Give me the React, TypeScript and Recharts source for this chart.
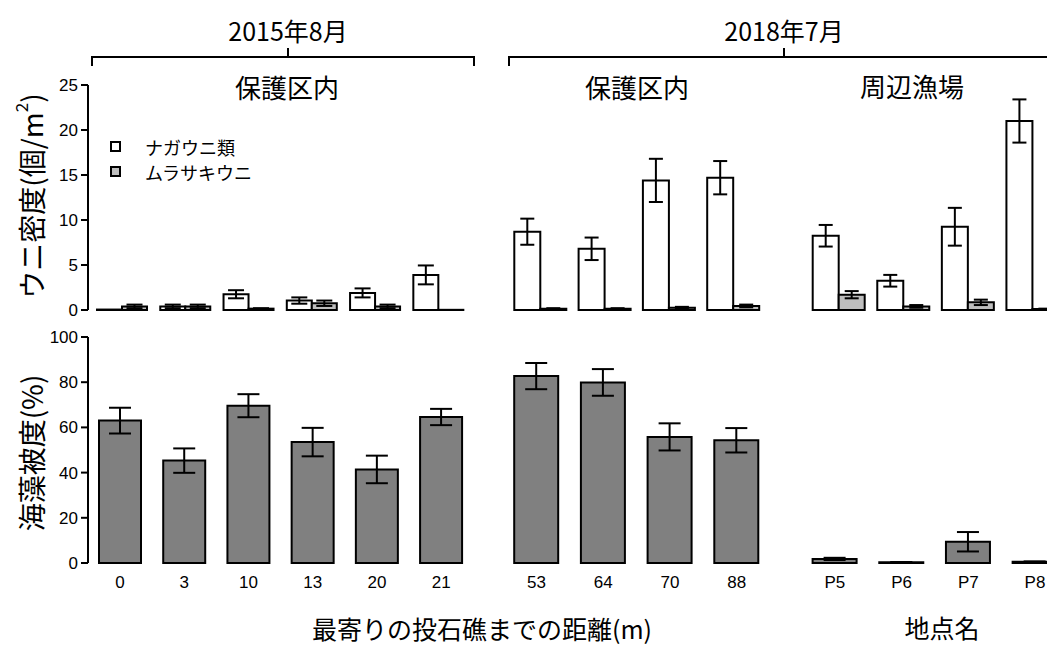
import { BarChart, Bar, XAxis, YAxis, ErrorBar, Legend } from "recharts";

const NUM_FONT = "'Liberation Sans', Arial, 'Noto Sans CJK JP', sans-serif";
const JP_FONT = "'Noto Sans CJK JP', 'Liberation Sans', sans-serif";

// categories
const sites2015 = ["0", "3", "10", "13", "20", "21"];
const sites2018 = ["53", "64", "70", "88"];
const sitesFishery = ["P5", "P6", "P7", "P8"];

// urchin density (ind./m2), mean and SE
const naga2015 = [0.05, 0.4, 1.75, 1.05, 1.9, 3.9];
const naga2015Err = [0, 0.2, 0.45, 0.35, 0.5, 1.05];
const mura2015 = [0.4, 0.4, 0.15, 0.75, 0.4, 0.02];
const mura2015Err = [0.2, 0.2, 0.05, 0.3, 0.2, 0];

const naga2018 = [8.7, 6.8, 14.4, 14.7];
const naga2018Err = [1.45, 1.25, 2.4, 1.85];
const mura2018 = [0.15, 0.15, 0.25, 0.45];
const mura2018Err = [0.05, 0.05, 0.1, 0.15];

const nagaFishery = [8.25, 3.25, 9.25, 21.0];
const nagaFisheryErr = [1.2, 0.65, 2.1, 2.4];
const muraFishery = [1.7, 0.4, 0.85, 0.1];
const muraFisheryErr = [0.4, 0.15, 0.3, 0.05];

// seaweed cover (%), mean and SE
const weed2015 = [63, 45.3, 69.6, 53.5, 41.4, 64.6];
const weed2015Err = [5.7, 5.4, 5.1, 6.3, 6.1, 3.6];
const weed2018 = [82.7, 79.9, 55.8, 54.3];
const weed2018Err = [5.8, 5.9, 6.0, 5.4];
const weedFishery = [1.8, 0.3, 9.4, 0.5];
const weedFisheryErr = [0.5, 0.1, 4.3, 0.2];

const densityTicks = [0, 5, 10, 15, 20, 25];
const coverTicks = [0, 20, 40, 60, 80, 100];

const series = [
  { key: "naga", name: "ナガウニ類", fill: "#ffffff" },
  { key: "mura", name: "ムラサキウニ", fill: "#bebebe" },
];

const urchinRows = (sites: string[], n: number[], ne: number[], m: number[], me: number[]) =>
  sites.map((site, i) => ({ site, naga: n[i], nagaErr: ne[i], mura: m[i], muraErr: me[i] }));
const weedRows = (sites: string[], v: number[], e: number[]) =>
  sites.map((site, i) => ({ site, cover: v[i], coverErr: e[i] }));

const LegendBox = () => (
  <div style={{ fontFamily: JP_FONT, fontSize: 18, color: "#000" }}>
    {series.map((s) => (
      <div key={s.key} style={{ display: "flex", alignItems: "center", height: 25 }}>
        <span
          style={{
            display: "inline-block",
            width: 11,
            height: 11,
            boxSizing: "border-box",
            border: "2px solid #000",
            background: s.fill,
            marginRight: 24,
          }}
        />
        <span>{s.name}</span>
      </div>
    ))}
  </div>
);

type PanelProps = {
  data: any[];
  left: number;
  width: number;
  plotLeft: number;
  plotRight: number;
  barSize: number;
  cap: number;
  withAxis?: boolean;
  withLegend?: boolean;
  pad?: number;
};

const tickStyle = { fill: "#000", fontSize: 17, fontFamily: NUM_FONT };

function UrchinPanel({ data, left, width, plotLeft, plotRight, barSize, cap, withAxis, withLegend, pad = 0 }: PanelProps) {
  const top = 70;
  const height = 250;
  const margin = {
    top: 85 - top,
    bottom: top + height - 310,
    left: withAxis ? 0 : plotLeft - left,
    right: left + width - plotRight,
  };
  return (
    <div style={{ position: "absolute", left, top }}>
      <BarChart width={width} height={height} data={data} margin={margin} barGap={0}>
        <XAxis dataKey="site" hide padding={{ left: pad, right: 0 }} />
        <YAxis
          hide={!withAxis}
          width={plotLeft - left}
          domain={[0, 25]}
          ticks={densityTicks}
          interval={0}
          tickSize={7}
          tickMargin={3}
          axisLine={{ stroke: "#000", strokeWidth: 2 }}
          tickLine={{ stroke: "#000", strokeWidth: 2 }}
          tick={tickStyle}
        />
        {withLegend && (
          <Legend
            layout="vertical"
            align="center"
            verticalAlign="middle"
            wrapperStyle={{ left: 110, top: 64, width: 200, height: 50 }}
            content={() => <LegendBox />}
          />
        )}
        {series.map((s) => (
          <Bar
            key={s.key}
            dataKey={s.key}
            name={s.name}
            fill={s.fill}
            stroke="#000"
            strokeWidth={2}
            barSize={barSize}
            isAnimationActive={false}
          >
            <ErrorBar dataKey={s.key + "Err"} width={cap} stroke="#000" strokeWidth={2} isAnimationActive={false} />
          </Bar>
        ))}
      </BarChart>
    </div>
  );
}

function WeedPanel({ data, left, width, plotLeft, plotRight, barSize, cap, withAxis, pad = 0 }: PanelProps) {
  const top = 320;
  const height = 300;
  const margin = {
    top: 337 - top,
    bottom: top + height - 563 - 30,
    left: withAxis ? 0 : plotLeft - left,
    right: left + width - plotRight,
  };
  return (
    <div style={{ position: "absolute", left, top }}>
      <BarChart width={width} height={height} data={data} margin={margin} barGap={0}>
        <XAxis
          dataKey="site"
          height={30}
          padding={{ left: pad, right: 0 }}
          axisLine={false}
          tickLine={false}
          tickMargin={7}
          interval={0}
          tick={tickStyle}
        />
        <YAxis
          hide={!withAxis}
          width={plotLeft - left}
          domain={[0, 100]}
          ticks={coverTicks}
          interval={0}
          tickSize={7}
          tickMargin={3}
          axisLine={{ stroke: "#000", strokeWidth: 2 }}
          tickLine={{ stroke: "#000", strokeWidth: 2 }}
          tick={tickStyle}
        />
        <Bar dataKey="cover" fill="#808080" stroke="#000" strokeWidth={2} barSize={barSize} isAnimationActive={false}>
          <ErrorBar dataKey="coverErr" width={cap} stroke="#000" strokeWidth={2} isAnimationActive={false} />
        </Bar>
      </BarChart>
    </div>
  );
}

export default function App() {
  const jp = { fontFamily: JP_FONT, fill: "#000" };
  return (
    <div
      style={{
        position: "absolute",
        left: 0,
        top: 0,
        width: 1047,
        height: 646,
        overflow: "hidden",
        background: "#fff",
      }}
    >
      <UrchinPanel
        data={urchinRows(sites2015, naga2015, naga2015Err, mura2015, mura2015Err)}
        left={0}
        width={480}
        plotLeft={88}
        plotRight={469.6}
        barSize={25}
        cap={8}
        pad={2}
        withAxis
        withLegend
      />
      <UrchinPanel
        data={urchinRows(sites2018, naga2018, naga2018Err, mura2018, mura2018Err)}
        left={500}
        width={280}
        plotLeft={508.3}
        plotRight={765.5}
        barSize={26}
        cap={7}
      />
      <UrchinPanel
        data={urchinRows(sitesFishery, nagaFishery, nagaFisheryErr, muraFishery, muraFisheryErr)}
        left={795}
        width={280}
        plotLeft={806.7}
        plotRight={1065}
        barSize={26}
        cap={7}
      />
      <WeedPanel
        data={weedRows(sites2015, weed2015, weed2015Err)}
        left={0}
        width={480}
        plotLeft={88}
        plotRight={473.3}
        barSize={42}
        cap={11}
        withAxis
      />
      <WeedPanel
        data={weedRows(sites2018, weed2018, weed2018Err)}
        left={495}
        width={285}
        plotLeft={503.2}
        plotRight={770}
        barSize={44}
        cap={11}
      />
      <WeedPanel
        data={weedRows(sitesFishery, weedFishery, weedFisheryErr)}
        left={795}
        width={285}
        plotLeft={801.6}
        plotRight={1068.3}
        barSize={44}
        cap={11}
      />

      <svg
        width={1047}
        height={646}
        style={{ position: "absolute", left: 0, top: 0, pointerEvents: "none" }}
      >
        <g fill="none" stroke="#000" strokeWidth={2}>
          <path d="M92,66 V57 H474 V66 M288,57 V48" />
          <path d="M509,66 V57 H1060 M784,57 V48" />
        </g>
        <text x={288} y={30} textAnchor="middle" dominantBaseline="central" fontSize={25} {...jp}>
          2015年8月
        </text>
        <text x={784} y={30} textAnchor="middle" dominantBaseline="central" fontSize={25} {...jp}>
          2018年7月
        </text>
        <text x={287} y={86} textAnchor="middle" dominantBaseline="central" fontSize={26} {...jp}>
          保護区内
        </text>
        <text x={637} y={86} textAnchor="middle" dominantBaseline="central" fontSize={26} {...jp}>
          保護区内
        </text>
        <text x={912} y={85} textAnchor="middle" dominantBaseline="central" fontSize={26} {...jp}>
          周辺漁場
        </text>
        <text x={482} y={628} textAnchor="middle" dominantBaseline="central" fontSize={25} {...jp}>
          最寄りの投石礁までの距離(m)
        </text>
        <text x={942} y={627} textAnchor="middle" dominantBaseline="central" fontSize={25} {...jp}>
          地点名
        </text>
        <text
          transform="translate(31,196) rotate(-90)"
          textAnchor="middle"
          dominantBaseline="central"
          fontSize={28}
          {...jp}
        >
          ウニ密度(個/m
          <tspan fontSize={17} dy={-11}>
            2
          </tspan>
          <tspan dy={11}>)</tspan>
        </text>
        <text
          transform="translate(31,453) rotate(-90)"
          textAnchor="middle"
          dominantBaseline="central"
          fontSize={28}
          {...jp}
        >
          海藻被度(%)
        </text>
      </svg>
    </div>
  );
}
